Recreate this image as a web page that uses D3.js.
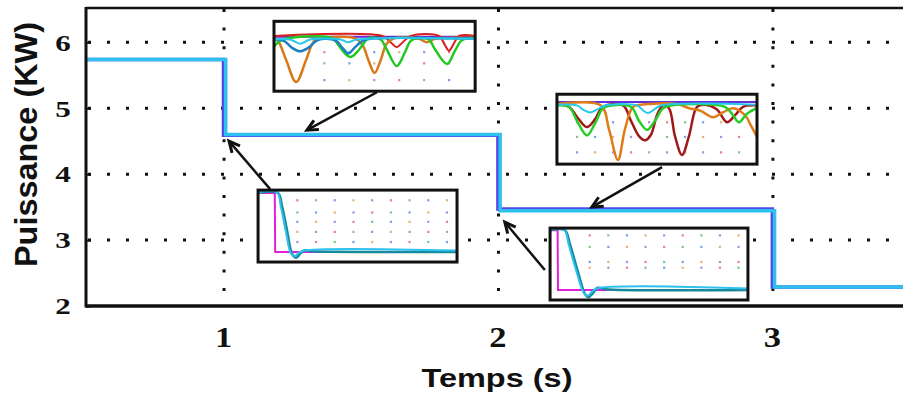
<!DOCTYPE html>
<html>
<head>
<meta charset="utf-8">
<script src="https://cdn.jsdelivr.net/npm/d3@7"></script>
<style>
  body { margin: 0; background: #fff; }
  svg { display: block; }
</style>
</head>
<body>
<svg id="chart"></svg>
<script>
// main traces: step instants (s) and power levels (kW)
const stepTimes = [0.497, 0.998, 1.998, 2.998, 3.48];
const stepTimesCyan = [0.497, 1.006, 2.006, 3.006, 3.48];
const powerMagenta = [5.73, 4.58, 3.46, 2.28];
const powerBlue = [5.74, 4.59, 3.47, 2.29];
const powerCyan = [5.74, 4.60, 3.445, 2.29];

const xTicks = [1, 2, 3];
const yTicks = [2, 3, 4, 5, 6];

// zoom insets, local units 0..100 (x: time inside zoom, y: level inside zoom)
const z1Purple = [[0, 78], [100, 78]];
const z1Red = [[0, 79], [54, 79], [58, 70], [61, 63], [64, 70], [68, 79], [82, 79], [85, 66], [87, 58], [89, 66], [92, 79], [100, 79]];
const z1Orange = [[0, 75], [2, 72], [6, 45], [11, 13], [16, 45], [20, 72], [24, 76], [40, 76], [44, 66], [47, 44], [50, 26], [53, 44], [56, 68], [60, 76], [72, 75], [76, 70], [80, 75], [100, 76]];
const z1Green = [[0, 64], [3, 72], [7, 76], [29, 76], [32, 66], [35, 55], [38, 49], [41, 55], [44, 66], [47, 76], [53, 74], [56, 60], [61, 36], [65, 55], [68, 72], [72, 76], [77, 74], [80, 60], [86, 39], [90, 58], [93, 72], [97, 76], [100, 76]];
const z1Teal = [[0, 74], [5, 72], [9, 62], [13, 57], [17, 62], [21, 72], [25, 75], [31, 72], [34, 62], [37, 54], [40, 62], [44, 72], [48, 75], [100, 75]];
const z1Cyan = [[0, 74], [8, 74], [13, 68], [18, 74], [33, 74], [37, 70], [41, 74], [100, 75]];

const z2Purple = [[0, 89], [100, 89]];
const z2Green = [[0, 84], [6, 82], [10, 62], [15, 41], [19, 58], [23, 80], [27, 84], [37, 82], [41, 62], [45, 49], [49, 62], [53, 80], [57, 84], [84, 82], [88, 70], [91, 60], [95, 72], [100, 80]];
const z2Orange = [[0, 86], [22, 84], [26, 50], [30.5, 6], [34, 50], [38, 82], [42, 85], [60, 86], [66, 80], [72, 76], [78, 67], [83, 74], [88, 80], [94, 70], [97, 55], [100, 39]];
const z2DarkRed = [[0, 86], [6, 82], [11, 64], [15, 53], [19, 64], [23, 82], [33, 84], [37, 62], [41, 40], [44, 34], [47, 42], [50, 70], [53, 84], [56, 80], [59, 40], [62.5, 13], [66, 40], [70, 82], [74, 85], [80, 78], [85, 60], [89, 70], [93, 82], [100, 84]];
const z2Cyan = [[0, 85], [10, 84], [13, 78], [16.5, 74], [20, 78], [24, 84], [40, 84], [43, 77], [45.5, 73], [48, 77], [52, 84], [100, 85]];

const z3Magenta = [[0, 96], [8.4, 96], [8.6, 14], [100, 14]];
const z3Teal = [[0, 96], [10, 96], [12, 78], [14.5, 45], [17, 12], [19, 6], [21, 11], [23, 16], [27, 15], [100, 14]];
const z3Cyan = [[0, 97], [9.5, 97], [11.5, 76], [14, 42], [16.5, 12], [18.5, 8], [20.5, 13], [23, 16], [100, 16]];

const z4Magenta = [[0, 97], [3.8, 97], [4, 14], [100, 14]];
const z4Teal = [[0, 97], [7.5, 97], [10, 78], [14, 40], [17.7, 8], [19.5, 4], [21.5, 9], [24, 17], [28, 15], [100, 14]];
const z4Cyan = [[0, 98], [7, 98], [9.5, 76], [13.5, 38], [17, 10], [19, 6], [21, 11], [23.5, 16], [100, 16]];

const magenta = "#e020d8";
const blue = "#5048e8";
const cyan = "#2ec0ee";
const teal = "#168a9c";
const dotColors = ["#d03030", "#30a030", "#2060d0", "#d08020", "#8040c0"];

const width = 903;
const height = 393;
const margin = { top: 8, right: 0, bottom: 87, left: 86 };
const boundedWidth = width - margin.left - margin.right;
const boundedHeight = height - margin.top - margin.bottom;

const svg = d3.select("#chart")
  .attr("width", width)
  .attr("height", height);

const xScale = d3.scaleLinear()
  .domain([0.497, 3.474])
  .range([margin.left, width]);

const yScale = d3.scaleLinear()
  .domain([2, 6.52])
  .range([margin.top + boundedHeight, margin.top]);

//dotted grid
svg.append("g")
  .selectAll("line")
  .data(yTicks.slice(1))
  .join("line")
  .attr("x1", margin.left + 2)
  .attr("x2", width)
  .attr("y1", d => yScale(d))
  .attr("y2", d => yScale(d))
  .attr("stroke", "#111")
  .attr("stroke-width", 3)
  .attr("stroke-dasharray", "3,16");

svg.append("g")
  .selectAll("line")
  .data(xTicks)
  .join("line")
  .attr("x1", d => xScale(d))
  .attr("x2", d => xScale(d))
  .attr("y1", margin.top + 1)
  .attr("y2", margin.top + boundedHeight)
  .attr("stroke", "#111")
  .attr("stroke-width", 3)
  .attr("stroke-dasharray", "3,15.6");

//step traces
function stepPoints(times, levels) {
  const pts = levels.map((v, i) => [times[i], v]);
  pts.push([times[times.length - 1], levels[levels.length - 1]]);
  return pts;
}

const stepLine = d3.line()
  .x(d => xScale(d[0]))
  .y(d => yScale(d[1]))
  .curve(d3.curveStepAfter);

[[stepTimes, powerMagenta, magenta, 2],
 [stepTimes, powerBlue, blue, 3.5],
 [stepTimesCyan, powerCyan, cyan, 3.5]].forEach(([t, p, c, w]) => {
  svg.append("path")
    .datum(stepPoints(t, p))
    .attr("d", stepLine)
    .attr("fill", "none")
    .attr("stroke", c)
    .attr("stroke-width", w);
});

//axes
const yAxis = svg.append("g")
  .attr("transform", `translate(${margin.left}, 0)`)
  .call(d3.axisLeft(yScale).tickValues(yTicks).tickSize(-5).tickFormat(d3.format("d")));
yAxis.select(".domain").remove();
yAxis.selectAll(".tick line").attr("stroke", "#111").attr("stroke-width", 2);
yAxis.selectAll(".tick text")
  .attr("x", 0)
  .attr("dy", "0.34em")
  .attr("text-anchor", "middle")
  .attr("transform", "translate(-23,0) scale(1.35,1)")
  .attr("fill", "#111")
  .style("font-family", "'Liberation Serif', serif")
  .style("font-weight", "bold")
  .style("font-size", "23px");

const xAxis = svg.append("g")
  .attr("transform", `translate(0, ${margin.top + boundedHeight})`)
  .call(d3.axisBottom(xScale).tickValues(xTicks).tickSize(0).tickFormat(d3.format("d")));
xAxis.select(".domain").remove();
xAxis.selectAll(".tick text")
  .attr("y", 0)
  .attr("dy", 0)
  .attr("transform", "translate(-1,41) scale(1.15,1)")
  .attr("fill", "#111")
  .style("font-family", "'Liberation Serif', serif")
  .style("font-weight", "bold")
  .style("font-size", "30px");

// frame
svg.append("line")
  .attr("x1", margin.left).attr("x2", margin.left)
  .attr("y1", margin.top - 1).attr("y2", margin.top + boundedHeight + 1.5)
  .attr("stroke", "#111").attr("stroke-width", 3);
svg.append("line")
  .attr("x1", margin.left).attr("x2", width)
  .attr("y1", margin.top + boundedHeight).attr("y2", margin.top + boundedHeight)
  .attr("stroke", "#111").attr("stroke-width", 3.5);
svg.append("line")
  .attr("x1", margin.left).attr("x2", width)
  .attr("y1", margin.top).attr("y2", margin.top)
  .attr("stroke", "#111").attr("stroke-width", 2.5);

//insets
const insets = [
  { t: [1.182, 1.915], p: [5.258, 6.318], rows: [56, 40, 16], cols: d3.range(25, 95, 12.4),
    series: [[z1Purple, "#7020d0", 2], [z1Red, "#d82020", 2], [z1Orange, "#d8781a", 2.5], [z1Green, "#22c822", 2.5], [z1Teal, "#1a80c0", 2.5], [z1Cyan, "#28c8ec", 2]] },
  { t: [2.213, 2.942], p: [4.152, 5.212], rows: [60, 39, 17], cols: d3.range(10, 100, 9),
    series: [[z2Purple, "#6030d8", 2], [z2DarkRed, "#a01818", 2.5], [z2Orange, "#e07c18", 2.5], [z2Green, "#28cc28", 2.5], [z2Cyan, "#28c8ec", 2]] },
  { t: [1.124, 1.849], p: [2.667, 3.758], rows: [86, 69, 56, 42, 28], cols: d3.range(19.7, 100, 9.4),
    series: [[z3Magenta, magenta, 2], [z3Teal, teal, 2.5], [z3Cyan, cyan, 2]] },
  { t: [2.188, 2.909], p: [2.091, 3.182], rows: [90, 74, 53, 45], cols: d3.range(20, 100, 9.4),
    series: [[z4Magenta, magenta, 2], [z4Teal, teal, 2.5], [z4Cyan, cyan, 2]] }
];

insets.forEach(inset => {
  const lx = d3.scaleLinear().domain([0, 100]).range([xScale(inset.t[0]), xScale(inset.t[1])]);
  const ly = d3.scaleLinear().domain([0, 100]).range([yScale(inset.p[0]), yScale(inset.p[1])]);
  const g = svg.append("g");

  g.append("rect")
    .attr("x", lx(0)).attr("y", ly(100))
    .attr("width", lx(100) - lx(0)).attr("height", ly(0) - ly(100))
    .attr("fill", "#fff");

  const cells = [];
  inset.rows.forEach((r, i) => inset.cols.forEach((c, j) => cells.push([c, r, (i + j) % dotColors.length])));
  g.selectAll(".dot")
    .data(cells)
    .join("rect")
    .attr("x", d => lx(d[0]) - 1)
    .attr("y", d => ly(d[1]) - 1)
    .attr("width", 2.2)
    .attr("height", 2.2)
    .attr("fill", d => dotColors[d[2]])
    .style("opacity", 0.6);

  const line = d3.line()
    .x(d => lx(d[0]))
    .y(d => ly(d[1]))
    .curve(d3.curveCatmullRom.alpha(0.5));

  const lineStraight = d3.line()
    .x(d => lx(d[0]))
    .y(d => ly(d[1]));

  inset.series.forEach(([pts, c, w]) => {
    g.append("path")
      .datum(pts)
      .attr("d", c === magenta ? lineStraight : line)
      .attr("fill", "none")
      .attr("stroke", c)
      .attr("stroke-width", w);
  });

  g.append("rect")
    .attr("x", lx(0)).attr("y", ly(100))
    .attr("width", lx(100) - lx(0)).attr("height", ly(0) - ly(100))
    .attr("fill", "none")
    .attr("stroke", "#111")
    .attr("stroke-width", 3);
});

//arrows
const arrows = [
  { from: [1.557, 5.242], to: [1.302, 4.667] },
  { from: [2.596, 4.106], to: [2.340, 3.50] },
  { from: [1.168, 3.773], to: [1.018, 4.50] },
  { from: [2.169, 2.545], to: [2.023, 3.273] }
];

arrows.forEach(a => {
  const x1 = xScale(a.from[0]), y1 = yScale(a.from[1]);
  const x2 = xScale(a.to[0]), y2 = yScale(a.to[1]);
  const ang = Math.atan2(y2 - y1, x2 - x1);
  const len = 12;
  const spread = 0.45;
  svg.append("line")
    .attr("x1", x1).attr("y1", y1).attr("x2", x2).attr("y2", y2)
    .attr("stroke", "#111").attr("stroke-width", 2.5);
  svg.append("path")
    .attr("d", `M${x2 - len * Math.cos(ang - spread)},${y2 - len * Math.sin(ang - spread)}L${x2},${y2}L${x2 - len * Math.cos(ang + spread)},${y2 - len * Math.sin(ang + spread)}`)
    .attr("fill", "none")
    .attr("stroke", "#111")
    .attr("stroke-width", 3);
});

//axis titles
svg.append("text")
  .attr("transform", "translate(37,144.5) rotate(-90)")
  .attr("text-anchor", "middle")
  .attr("textLength", 245)
  .attr("lengthAdjust", "spacingAndGlyphs")
  .attr("fill", "#111")
  .style("font-family", "'Liberation Sans', Arial, sans-serif")
  .style("font-weight", "bold")
  .style("font-size", "32px")
  .text("Puissance (KW)");

svg.append("text")
  .attr("x", 497)
  .attr("y", 387)
  .attr("text-anchor", "middle")
  .attr("textLength", 151)
  .attr("lengthAdjust", "spacingAndGlyphs")
  .attr("fill", "#111")
  .style("font-family", "'Liberation Sans', Arial, sans-serif")
  .style("font-weight", "bold")
  .style("font-size", "26px")
  .text("Temps (s)");
</script>
</body>
</html>
